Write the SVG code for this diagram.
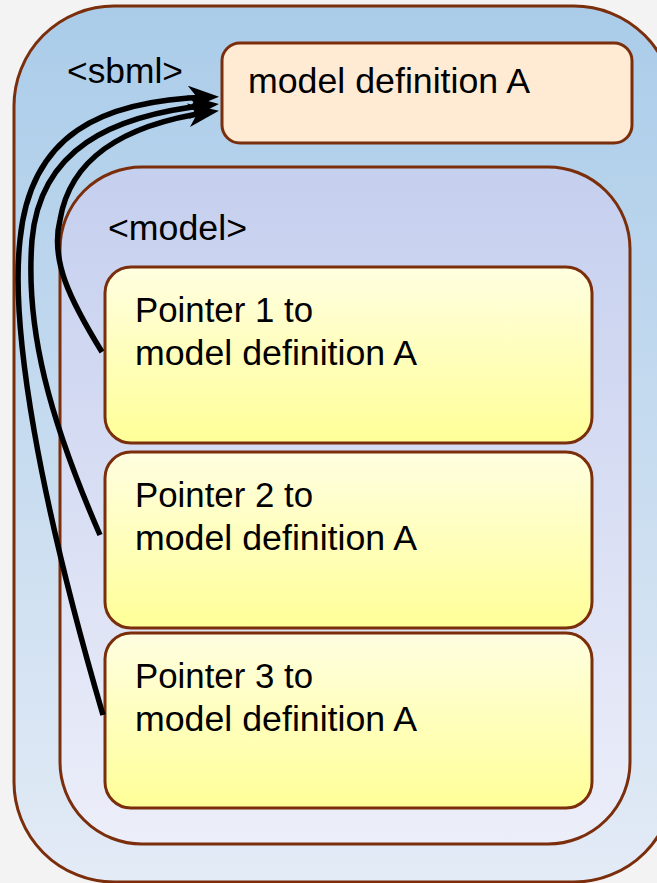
<svg xmlns="http://www.w3.org/2000/svg" width="657" height="883" viewBox="0 0 657 883">
  <defs>
    <linearGradient id="gOuter" x1="0" y1="0" x2="0" y2="1">
      <stop offset="0" stop-color="#aacce9"/>
      <stop offset="1" stop-color="#e3ebf6"/>
    </linearGradient>
    <linearGradient id="gModel" x1="0" y1="0" x2="0" y2="1">
      <stop offset="0" stop-color="#c5cfee"/>
      <stop offset="1" stop-color="#eceef9"/>
    </linearGradient>
    <linearGradient id="gPtr" x1="0" y1="0" x2="0" y2="1">
      <stop offset="0" stop-color="#fffee0"/>
      <stop offset="1" stop-color="#ffff98"/>
    </linearGradient>
    <marker id="head" viewBox="0 -12 32 24" refX="22" refY="0" markerWidth="32" markerHeight="24" markerUnits="userSpaceOnUse" orient="auto">
      <path d="M0,-12 L31,0 L0,12 L9,0 Z" fill="#000"/>
    </marker>
  </defs>
  <style>
    .box { stroke: #7b2e0b; stroke-width: 3; }
    .t { font-family: "Liberation Sans", Arial, sans-serif; fill: #000; font-size: 35px; }
    .conn path { fill: none; stroke: #000; stroke-width: 5.5; marker-end: url(#head); }
  </style>
  <rect x="0" y="0" width="657" height="883" fill="#f3f3f3"/>

  <g id="sbml">
    <rect class="box" x="14" y="6" width="660" height="876" rx="100" ry="100" fill="url(#gOuter)"/>
    <text class="t" x="67" y="83" font-size="32" textLength="116" lengthAdjust="spacingAndGlyphs">&lt;sbml&gt;</text>
  </g>

  <g id="modelDefA">
    <rect class="box" x="222" y="43" width="410" height="100" rx="18" ry="18" fill="#ffebd4"/>
    <text class="t" x="248" y="93" textLength="282" lengthAdjust="spacingAndGlyphs">model definition A</text>
  </g>

  <g id="model">
    <rect class="box" x="60" y="167" width="570" height="677" rx="82" ry="82" fill="url(#gModel)"/>
    <text class="t" x="108" y="240" font-size="33" textLength="139" lengthAdjust="spacingAndGlyphs">&lt;model&gt;</text>
  </g>

  <g id="pointer1">
    <rect class="box" x="105" y="267" width="487" height="176" rx="26" ry="26" fill="url(#gPtr)"/>
    <text class="t" x="135" y="322" textLength="178" lengthAdjust="spacingAndGlyphs">Pointer 1 to</text>
    <text class="t" x="135" y="365" textLength="282" lengthAdjust="spacingAndGlyphs">model definition A</text>
  </g>

  <g id="pointer2">
    <rect class="box" x="105" y="452" width="487" height="176" rx="26" ry="26" fill="url(#gPtr)"/>
    <text class="t" x="135" y="507" textLength="178" lengthAdjust="spacingAndGlyphs">Pointer 2 to</text>
    <text class="t" x="135" y="550" textLength="282" lengthAdjust="spacingAndGlyphs">model definition A</text>
  </g>

  <g id="pointer3">
    <rect class="box" x="105" y="633" width="487" height="175" rx="26" ry="26" fill="url(#gPtr)"/>
    <text class="t" x="135" y="688" textLength="178" lengthAdjust="spacingAndGlyphs">Pointer 3 to</text>
    <text class="t" x="135" y="731" textLength="282" lengthAdjust="spacingAndGlyphs">model definition A</text>
  </g>

  <g id="connectors" class="conn">
    <path d="M103,715 C40,500 10,330 20,240 C30,135 100,100 210,97"/>
    <path d="M100,535 C50,420 25,330 32,240 C40,150 110,115 210,105"/>
    <path d="M102,352 C70,300 50,260 60,220 C70,160 120,125 210,112"/>
  </g>
</svg>
